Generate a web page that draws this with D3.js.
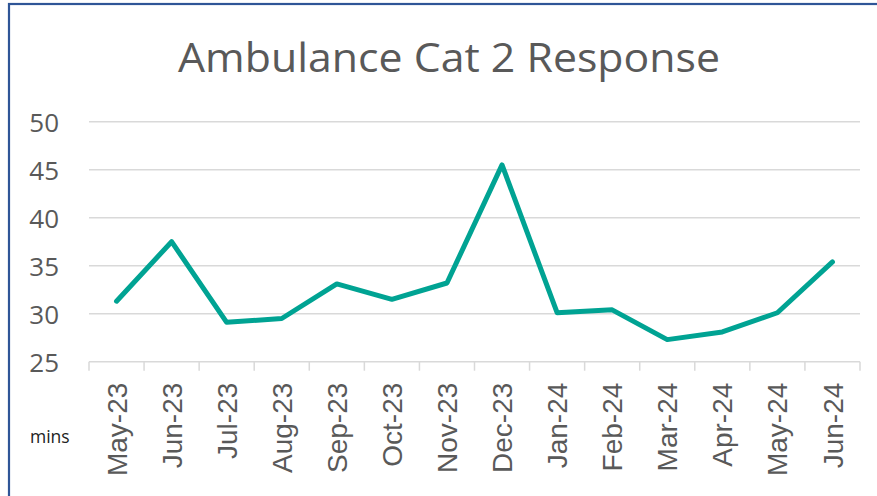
<!DOCTYPE html>
<html><head><meta charset="utf-8">
<script src="https://cdn.jsdelivr.net/npm/d3@7/dist/d3.min.js"></script>
<style>
html,body{margin:0;padding:0;background:#fff;overflow:hidden;}
svg{display:block;}
</style></head>
<body>
<svg id="chart" width="877" height="496"></svg>
<script>
const categories = ["May-23","Jun-23","Jul-23","Aug-23","Sep-23","Oct-23","Nov-23","Dec-23","Jan-24","Feb-24","Mar-24","Apr-24","May-24","Jun-24"];
const values = [31.3,37.5,29.1,29.5,33.1,31.5,33.2,45.5,30.1,30.4,27.3,28.1,30.1,35.4];
const yTicks = [25,30,35,40,45,50];
const title = "Ambulance Cat 2 Response";
const unitLabel = "mins";

const svg = d3.select("#chart");
const textColor = "#595959";
const calibriLike = "'Open Sans', sans-serif";

// border
svg.append("rect").attr("x",9).attr("y",4).attr("width",900).attr("height",520)
  .attr("fill","none").attr("stroke","#2f5597").attr("stroke-width",2.2);

const pLeft = 89, pRight = 860, pTop = 121.7, pBottom = 361.7;
const x = d3.scaleBand().domain(categories).range([pLeft,pRight]).padding(0);
const y = d3.scaleLinear().domain([25,50]).range([pBottom,pTop]);

// title
const t = svg.append("text").attr("x",449).attr("y",72).attr("text-anchor","middle")
  .attr("font-family",calibriLike).attr("font-size",41)
  .attr("fill",textColor).text(title);
t.attr("textLength",542).attr("lengthAdjust","spacingAndGlyphs");

// gridlines
svg.append("g").selectAll("line").data(yTicks.filter(d=>d>25)).join("line")
  .attr("x1",pLeft).attr("x2",pRight).attr("y1",d=>y(d)).attr("y2",d=>y(d))
  .attr("stroke","#d9d9d9").attr("stroke-width",1.5);

// y axis labels
const yAxis = d3.axisLeft(y).tickValues(yTicks).tickSize(0).tickPadding(0);
const yg = svg.append("g").attr("transform",`translate(59,0)`).call(yAxis);
yg.select(".domain").remove();
yg.selectAll("text").attr("font-family",calibriLike)
  .attr("font-size",26).attr("fill",textColor).attr("dy","0.36em");

// x axis
const xAxis = d3.axisBottom(x).tickSize(0).tickPadding(0);
const xg = svg.append("g").attr("transform",`translate(0,${pBottom})`).call(xAxis);
xg.select(".domain").attr("stroke","#d9d9d9").attr("stroke-width",1.5).attr("d",`M${pLeft},0H${pRight}`);
xg.selectAll(".tick text")
  .attr("font-family","'Liberation Sans', Arial, sans-serif").attr("font-size",28)
  .attr("fill",textColor)
  .attr("transform","rotate(-90)")
  .attr("text-anchor","end").attr("x",-21).attr("y",0).attr("dy","0.36em");
// tick marks at band boundaries
const bounds = categories.map(c=>x(c)).concat([pRight]);
svg.append("g").selectAll("line").data(bounds).join("line")
  .attr("x1",d=>d).attr("x2",d=>d).attr("y1",pBottom).attr("y2",pBottom+9)
  .attr("stroke","#d9d9d9").attr("stroke-width",1.5);

// unit label
svg.append("text").attr("x",30).attr("y",443)
  .attr("font-family",calibriLike).attr("font-size",17.5)
  .attr("fill","#222").text(unitLabel);

// line
const line = d3.line().x((d,i)=>x(categories[i])+x.bandwidth()/2).y(d=>y(d));
svg.append("path").datum(values).attr("d",line).attr("fill","none")
  .attr("stroke","#00a393").attr("stroke-width",5).attr("stroke-linejoin","round").attr("stroke-linecap","round");
</script>
</body></html>
